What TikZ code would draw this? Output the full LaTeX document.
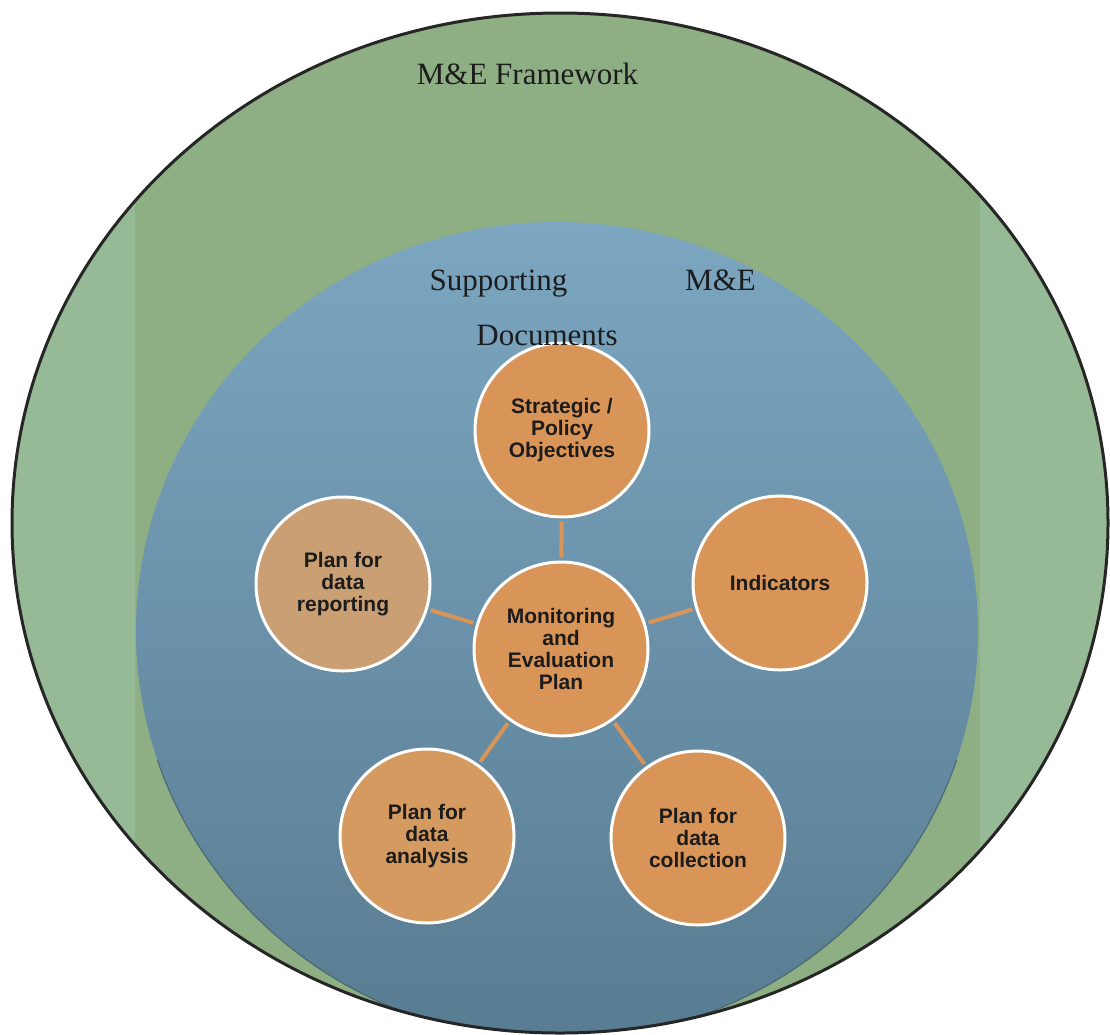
\documentclass[tikz,border=0pt]{standalone}
\usepackage{fontspec}
\setmainfont{Liberation Serif}
\newfontfamily\circlefont{Liberation Sans}
\usetikzlibrary{shadows}

\definecolor{frameGreen}{HTML}{8EAE84}
\definecolor{frameGreenLight}{HTML}{97BA96}
\definecolor{docBlueTop}{HTML}{7CA6C1}
\definecolor{docBlueBottom}{HTML}{587C91}
\definecolor{docEdge}{HTML}{3F5A66}
\definecolor{planOrange}{HTML}{D99558}
\definecolor{planOrangeSoft}{HTML}{D59A60}
\definecolor{planTan}{HTML}{C99F73}
\definecolor{inkBlack}{HTML}{1C1C1C}

\begin{document}
\begin{tikzpicture}[x=1pt,y=-1pt,
  layerlabel/.style={font=\fontsize{31}{36}\selectfont, text=inkBlack,
    anchor=base, inner sep=0pt},
  planbox/.style={circle, minimum size=174pt, inner sep=0pt, draw=white,
    line width=3pt, fill=planOrange, align=center, text=inkBlack,
    font=\circlefont\bfseries\fontsize{21}{22}\selectfont,
    drop shadow={shadow xshift=0pt, shadow yshift=-2pt, opacity=0.3, fill=black!70}},
  link/.style={draw=planOrange, line width=4pt, shorten <=3pt, shorten >=3pt}
]
\useasboundingbox (0,0) rectangle (1110,1034);

% outer framework ring
\fill[frameGreenLight] (560,523) ellipse [x radius=548, y radius=510];
\begin{scope}
  \clip (560,523) ellipse [x radius=548, y radius=510];
  \fill[frameGreen] (135,0) rectangle (980,1034);
  % supporting documents disc
  \path[top color=docBlueTop, bottom color=docBlueBottom]
    (557,631) ellipse [x radius=421, y radius=409];
  % darker rim along the lower part of the disc
  \begin{scope}
    \clip (0,760) rectangle (1110,1034);
    \draw[docEdge, line width=1.2pt, opacity=0.7]
      (557,631) ellipse [x radius=421, y radius=409];
  \end{scope}
\end{scope}
\draw[black!85, line width=3pt] (560,523) ellipse [x radius=548, y radius=510];

% plan components
\node[planbox] (obj) at (562,430) {Strategic /\\Policy\\Objectives};
\node[planbox] (ind) at (780,583) {Indicators};
\node[planbox, fill=planTan] (rep) at (343,584) {Plan for\\data\\reporting};
\node[planbox, fill=planOrangeSoft] (ana) at (427,836) {Plan for\\data\\analysis};
\node[planbox] (col) at (698,838) {Plan for\\data\\collection};
\node[planbox] (mep) at (561,649) {Monitoring\\and\\Evaluation\\Plan};

% spokes
\draw[link] (mep) -- (obj);
\draw[link] (mep) -- (ind);
\draw[link] (mep) -- (rep);
\draw[link] (mep) -- (ana);
\draw[link] (mep) -- (col);

% ring labels
\node[layerlabel] (fwlabel) at (527.5,84) {M\&E Framework};
\node[layerlabel] (suplabel) at (498.5,290) {Supporting};
\node[layerlabel] (melabel) at (720.5,290) {M\&E};
\node[layerlabel] (doclabel) at (547,345) {Documents};
\end{tikzpicture}
\end{document}
